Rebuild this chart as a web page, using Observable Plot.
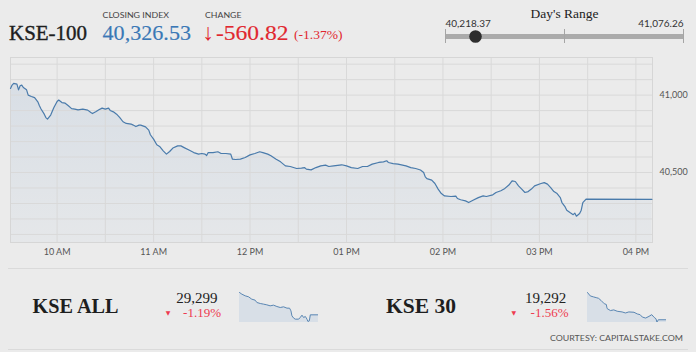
<!DOCTYPE html>
<html><head><meta charset="utf-8">
<script src="https://cdn.jsdelivr.net/npm/d3@7"></script>
<script src="https://cdn.jsdelivr.net/npm/@observablehq/plot@0.6"></script>
<style>
html,body{margin:0;padding:0;background:#ebebeb;}
#root{position:relative;width:696px;height:352px;background:#ebebeb;overflow:hidden;font-family:Lato,sans-serif;}
.abs{position:absolute;}
</style></head><body><div id="root"></div>
<script>
// ---------------- data ----------------
const indexName = "KSE-100";
const closeIndex = 40326.53;
const changePts = -560.82;
const changePct = -1.37;
const dayLow = 40218.37;
const dayHigh = 41076.26;

const mainTimes = ["9:31","9:32","9:33","9:35","9:36","9:37","9:38","9:39","9:41","9:42","9:44","9:46","9:48","9:49","9:50","9:52","9:53","9:54","9:56","9:58",
"10:00","10:01","10:03","10:05","10:07","10:09","10:11","10:13","10:16","10:19","10:21","10:22","10:24","10:26","10:28","10:30","10:32","10:33","10:35","10:37","10:39","10:41","10:43","10:46","10:47","10:49","10:51","10:52","10:55","10:57","10:58",
"11:00","11:02","11:04","11:06","11:08","11:10","11:12","11:15","11:17","11:19","11:22","11:25","11:28","11:30","11:32","11:33","11:34","11:37","11:40","11:42","11:45","11:48","11:49","11:51","11:54","11:57",
"12:00","12:03","12:06","12:08","12:11","12:13","12:16","12:19","12:22","12:25","12:29","12:32","12:34","12:35","12:38","12:41","12:44","12:47","12:49","12:52","12:57",
"13:00","13:03","13:07","13:10","13:13","13:16","13:20","13:23","13:25","13:26","13:29","13:32","13:37","13:40","13:43","13:46","13:48","13:49","13:50","13:53","13:55","13:57","13:59",
"14:01","14:05","14:08","14:09","14:11","14:14","14:16","14:19","14:22","14:25","14:27","14:31","14:33","14:36","14:38","14:41","14:43","14:45","14:47","14:49","14:51","14:53","14:55","14:57",
"15:01","15:03","15:05","15:07","15:09","15:11","15:13","15:14","15:16","15:17","15:19","15:21","15:22","15:23","15:25","15:26","15:27","15:29","16:10"];
const mainValues = [41043,41065,41076,41071,41034,41060,41065,41049,41034,41000,40991,40984,40957,40931,40910,40877,40855,40845,40871,40920,
40959,40968,40952,40948,40931,40913,40910,40905,40910,40903,40888,40881,40892,40905,40916,40910,40916,40901,40892,40877,40855,40828,40817,40813,40808,40797,40806,40806,40795,40774,40744,
40716,40679,40666,40640,40619,40636,40658,40672,40672,40661,40645,40629,40619,40623,40619,40610,40629,40629,40634,40623,40623,40619,40587,40584,40587,40597,
40614,40623,40634,40629,40619,40608,40587,40569,40543,40539,40526,40528,40532,40522,40517,40532,40543,40548,40539,40543,40550,
40543,40532,40526,40539,40539,40554,40565,40569,40576,40565,40558,40554,40543,40532,40526,40516,40500,40472,40461,40451,40429,40393,40364,
40349,40345,40348,40332,40324,40317,40306,40322,40338,40349,40345,40356,40371,40382,40393,40419,40446,40442,40414,40393,40371,40377,40393,40414,
40429,40435,40425,40403,40377,40364,40338,40306,40278,40257,40242,40228,40238,40218,40235,40257,40306,40328,40327];

const hourTicks = ["10:00","11:00","12:00","13:00","14:00","15:00","16:00"];
const gridTimes = ["10:00","10:30","11:00","11:30","12:00","12:30","13:00","13:30","14:00","14:30","15:00","15:30","16:00"];
const gridValues = [40100,40200,40300,40400,40500,40600,40700,40800,40900,41000,41100,41200];
const yTickValues = [40500, 41000];

const subNames = ["KSE ALL", "KSE 30"];
const subValues = [29299, 19292];
const subChanges = [-1.19, -1.56];

const kseAllTimes = ["9:31","9:43","10:00","10:17","10:33","10:50","10:59","11:16","11:33","11:49","12:06","12:23","12:40","12:57","13:14","13:31","13:44","13:51","13:56","14:05","14:13","14:30","14:38","14:47","14:55","15:04","15:12","15:17","15:24","15:29","16:10"];
const kseAllValues = [29701,29671,29641,29623,29581,29563,29521,29503,29491,29479,29461,29473,29449,29431,29443,29419,29419,29371,29281,29239,29221,29221,29251,29293,29251,29269,29221,29179,29191,29299,29299];

const kse30Times = ["9:31","9:45","10:02","10:15","10:27","10:39","10:56","11:06","11:10","11:27","11:44","12:01","12:26","12:43","13:00","13:26","13:43","13:57","14:08","14:25","14:42","14:56","15:08","15:17","15:22","15:26","15:29","16:10"];
const kse30Values = [19612,19572,19560,19552,19544,19520,19480,19472,19424,19400,19408,19392,19384,19372,19384,19380,19360,19352,19324,19312,19332,19352,19320,19304,19264,19280,19292,19292];

const courtesy = "COURTESY: CAPITALSTAKE.COM";

// ---------------- helpers ----------------
const parse = s => { const [h, m] = s.split(":").map(Number); return new Date(2019, 0, 1, h, m); };
const timeDomain = [parse("9:31"), new Date(2019, 0, 1, 16, 10, 20)];
const root = document.getElementById("root");
function place(el, left, top) {
  const d = document.createElement("div");
  d.className = "abs"; d.style.left = left + "px"; d.style.top = top + "px";
  d.appendChild(el); root.appendChild(d); return d;
}
const fmt2 = d3.format(",.2f");
const fmt0 = d3.format(",");

// ---------------- main chart ----------------
const main = mainTimes.map((t, i) => ({t: parse(t), v: mainValues[i]}));
const yDomain = [40048, 41243];
const mainPlot = Plot.plot({
  width: 696, height: 212,
  marginLeft: 10, marginRight: 44, marginTop: 7, marginBottom: 20,
  style: {background: "transparent", fontFamily: "Lato, sans-serif", fontSize: "9px", color: "#555"},
  x: {type: "time", domain: timeDomain, ticks: hourTicks.map(parse), tickFormat: d3.timeFormat("%I %p"), tickSize: 0, tickPadding: 6, label: null},
  y: {domain: yDomain, axis: "right", ticks: yTickValues, tickFormat: d3.format(","), tickSize: 0, tickPadding: 7, label: null},
  marks: [
    Plot.areaY(main, {x: "t", y1: yDomain[0], y2: "v", fill: "url(#kgrad)"}),
    Plot.ruleY(gridValues, {stroke: "#d9d9d9", strokeWidth: 1}),
    Plot.ruleX(gridTimes.map(parse), {stroke: "#d9d9d9", strokeWidth: 1}),
    Plot.frame({stroke: "#d6d6d6"}),
    Plot.lineY(main, {x: "t", y: "v", stroke: "#4a7bab", strokeWidth: 1.2})
  ]
});
{
  const defs = d3.select(mainPlot).insert("defs", ":first-child");
  const g = defs.append("linearGradient").attr("id", "kgrad").attr("x1", 0).attr("y1", 0).attr("x2", 0).attr("y2", 1);
  g.append("stop").attr("offset", "0%").attr("stop-color", "#5a8ac0").attr("stop-opacity", 0.13);
  g.append("stop").attr("offset", "100%").attr("stop-color", "#5a8ac0").attr("stop-opacity", 0.04);
}
place(mainPlot, 0, 50);

// ---------------- day's range ----------------
const rangePlot = Plot.plot({
  width: 256, height: 50, marginLeft: 5, marginRight: 13, marginTop: 29, marginBottom: 7,
  style: {background: "transparent", overflow: "visible"},
  x: {domain: [dayLow, dayHigh], axis: null},
  y: {domain: [0, 1], axis: null},
  marks: [
    Plot.ruleY([0.5], {x1: dayLow, x2: dayHigh, stroke: "#ababab", strokeWidth: 5}),
    Plot.tickX([dayLow, (dayLow + dayHigh) / 2, dayHigh], {stroke: "#a5a5a5", strokeWidth: 1}),
    Plot.dot([closeIndex], {x: d => d, y: 0.5, r: 6.3, fill: "#2e2e2e"}),
    Plot.text([dayLow], {x: d => d, y: 1, dy: -6, text: d => fmt2(d), textAnchor: "start", fontFamily: "Lato, sans-serif", fontSize: 10, fill: "#333"}),
    Plot.text([dayHigh], {x: d => d, y: 1, dy: -6, text: d => fmt2(d), textAnchor: "end", fontFamily: "Lato, sans-serif", fontSize: 10, fill: "#333"}),
    Plot.text([(dayLow + dayHigh) / 2], {x: d => d, y: 1, dy: -16, text: () => "Day's Range", fontFamily: "Liberation Serif, serif", fontSize: 13.5, fill: "#222"})
  ]
});
place(rangePlot, 440, 0);

// ---------------- sparklines ----------------
function spark(times, values, pad) {
  const data = times.map((t, i) => ({t: parse(t), v: values[i]}));
  const lo = d3.min(values) - pad[0], hi = d3.max(values) + pad[1];
  return Plot.plot({
    width: 79, height: 31, margin: 0,
    style: {background: "transparent"},
    x: {type: "time", domain: timeDomain, axis: null},
    y: {domain: [lo, hi], axis: null},
    marks: [
      Plot.areaY(data, {x: "t", y1: lo, y2: "v", fill: "#d8dfe7"}),
      Plot.lineY(data, {x: "t", y: "v", stroke: "#5b87b3", strokeWidth: 1})
    ]
  });
}
place(spark(kseAllTimes, kseAllValues, [18, 18]), 239, 291);
place(spark(kse30Times, kse30Values, [4, 12]), 587, 291);

// ---------------- text overlay ----------------
const svg = d3.select(root).append("svg").attr("class", "abs").style("left", 0).style("top", 0)
  .attr("width", 696).attr("height", 352).style("pointer-events", "none");
function txt(x, y, s, o = {}) {
  const t = svg.append("text").attr("x", x).attr("y", y).text(s)
    .attr("font-family", o.font || "Liberation Serif, serif")
    .attr("font-size", o.size || 12)
    .attr("fill", o.fill || "#222")
    .attr("text-anchor", o.anchor || "start");
  if (o.weight) t.attr("font-weight", o.weight);
  if (o.stroke) t.attr("stroke", o.fill || "#222").attr("stroke-width", o.stroke);
  if (o.len) t.attr("textLength", o.len).attr("lengthAdjust", "spacingAndGlyphs");
  return t;
}
const red = "#e1272f", blue = "#3a78b6", pink = "#ee3b50";
txt(9, 39.5, indexName, {size: 21, len: 78, stroke: 0.4, fill: "#1e1e1e"});
txt(102.5, 18.3, "CLOSING INDEX", {font: "Lato, sans-serif", size: 8, fill: "#444", len: 66.5});
txt(102.5, 39.5, fmt2(closeIndex), {size: 22, fill: blue, len: 88.5, stroke: 0.15});
txt(205, 18.3, "CHANGE", {font: "Lato, sans-serif", size: 8, fill: "#444", len: 36.5});
txt(202.5, 40, "↓", {font: "Liberation Sans, sans-serif", size: 23, weight: "bold", fill: red});
txt(216, 39.5, (changePts < 0 ? "-" : "+") + fmt2(Math.abs(changePts)), {size: 22, fill: red, len: 72.5, stroke: 0.15});
txt(294, 38.5, "(" + changePct.toFixed(2) + "%)", {size: 13, fill: red, len: 48.5});

const subX = [{name: 32.5, nameLen: 86, valEnd: 217.5, tri: 168, chgEnd: 221},
              {name: 386, nameLen: 70, valEnd: 566.3, tri: 513.7, chgEnd: 568.5}];
subNames.forEach((n, i) => {
  const p = subX[i];
  txt(p.name, 312.7, n, {size: 22, weight: "bold", fill: "#1e1e1e", len: p.nameLen});
  txt(p.valEnd, 302.7, fmt0(subValues[i]), {size: 15, anchor: "end", fill: "#222"});
  txt(p.tri, 315, "▼", {font: "DejaVu Sans, sans-serif", size: 6, anchor: "middle", fill: pink});
  txt(p.chgEnd, 316.7, subChanges[i].toFixed(2) + "%", {size: 13, anchor: "end", fill: pink});
});
txt(550, 340.7, courtesy, {font: "Lato, sans-serif", size: 8, fill: "#555", len: 133});

// separators
svg.append("line").attr("x1", 8).attr("x2", 688).attr("y1", 268.5).attr("y2", 268.5).attr("stroke", "#dadada");
svg.append("line").attr("x1", 8).attr("x2", 688).attr("y1", 349.5).attr("y2", 349.5).attr("stroke", "#dadada");
</script></body></html>
